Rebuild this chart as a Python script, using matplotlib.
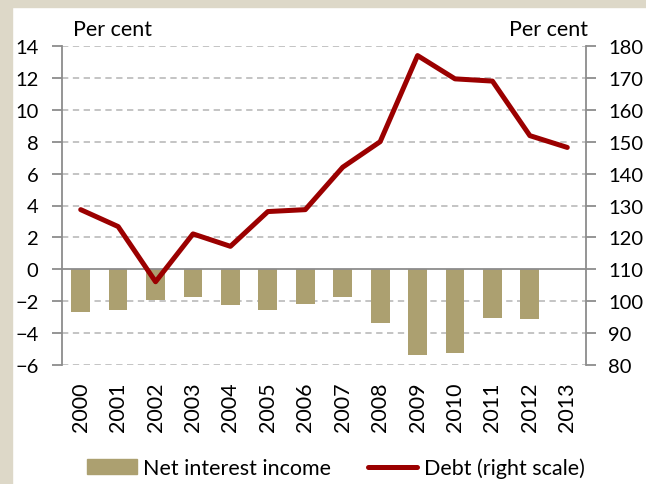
import numpy as np
import matplotlib.pyplot as plt
from matplotlib.patches import Rectangle

plt.rcParams['font.family'] = ['Lato', 'DejaVu Sans']

years = ['2000', '2001', '2002', '2003', '2004', '2005', '2006',
         '2007', '2008', '2009', '2010', '2011', '2012', '2013']
# net interest income, per cent (left scale); no bar for 2013
net_interest = [-2.70, -2.55, -1.90, -1.76, -2.26, -2.55, -2.15,
                -1.74, -3.39, -5.39, -5.23, -3.07, -3.14, np.nan]
# debt, per cent (right scale)
debt = [128.7, 123.4, 106.1, 121.1, 117.2, 128.1, 128.7,
        142.0, 150.0, 177.0, 169.7, 169.0, 151.9, 148.2]

bar_col = '#ACA070'
line_col = '#9B0000'
grey = '#8C8C8C'
fs = 15.5
tfs = 14.5

fig = plt.figure(figsize=(6.46, 4.85), dpi=100)
# beige frame on left and top
fig.patches.append(Rectangle((0, 0), 12 / 646, 1, transform=fig.transFigure,
                             color='#DDD8C8', zorder=0))
fig.patches.append(Rectangle((0, 1 - 8 / 485), 1, 8 / 485, transform=fig.transFigure,
                             color='#DDD8C8', zorder=0))

ax1 = fig.add_axes([62 / 646, 1 - 366 / 485, 524 / 646, 319 / 485])
x = np.arange(len(years))

ax1.bar(x, net_interest, width=0.5, color=bar_col, zorder=2)
ax1.set_ylim(-6, 14)
ax1.set_yticks(np.arange(-6, 15, 2))
ax1.set_xlim(-0.5, len(years) - 0.5)
ax1.set_xticks(x)
ax1.set_xticklabels(years, rotation=90)
for t in np.arange(-6, 15, 2):
    if t != 0:
        ax1.axhline(t, color='#BFBFBF', lw=1.3, ls=(0, (3.5, 2.5)), zorder=0)
ax1.axhline(0, color=grey, lw=1.3, zorder=3)

ax1.tick_params(axis='x', length=0, pad=12, labelsize=fs)
ax1.tick_params(axis='y', length=7, width=1.3, color=grey, pad=10, labelsize=tfs)
for s in ['top', 'right', 'bottom']:
    ax1.spines[s].set_visible(False)
ax1.spines['left'].set_color(grey)
ax1.spines['left'].set_linewidth(1.3)

ax2 = ax1.twinx()
ax2.plot(x, debt, color=line_col, lw=3.6, solid_capstyle='round', zorder=4)
ax2.set_ylim(80, 180)
ax2.set_yticks(np.arange(80, 181, 10))
ax2.tick_params(axis='y', length=7, width=1.3, color=grey, pad=9, labelsize=tfs)
for s in ['top', 'left', 'bottom']:
    ax2.spines[s].set_visible(False)
ax2.spines['right'].set_color(grey)
ax2.spines['right'].set_linewidth(1.3)

fig.text(73 / 646, 1 - 30 / 485, 'Per cent', fontsize=fs, va='center', ha='left')
fig.text(588 / 646, 1 - 30 / 485, 'Per cent', fontsize=fs, va='center', ha='right')

h1 = Rectangle((0, 0), 1, 1, color=bar_col)
h2 = plt.Line2D([], [], color=line_col, lw=3.6, solid_capstyle='round')
fig.legend([h1, h2], ['Net interest income', 'Debt (right scale)'],
           loc='center', bbox_to_anchor=(336 / 646, 1 - 469 / 485), ncol=2,
           frameon=False, fontsize=fs, handlelength=2.3, handleheight=0.7,
           handletextpad=0.3, columnspacing=1.7)

fig.savefig('out.png', dpi=100)
